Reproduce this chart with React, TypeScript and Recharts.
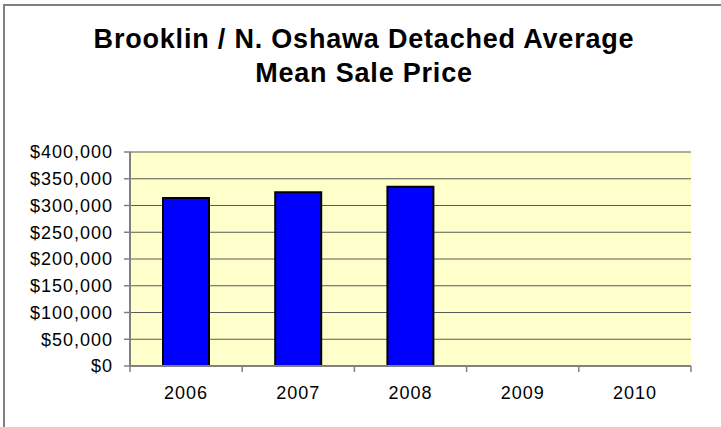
import React from "react";
import { Bar, BarChart, CartesianGrid, XAxis, YAxis } from "recharts";

const years = ["2006", "2007", "2008", "2009", "2010"];
const prices = [314000, 325000, 335000, null, null];
const priceTicks = [0, 50000, 100000, 150000, 200000, 250000, 300000, 350000, 400000];

const data = years.map((y, i) => ({ year: y, price: prices[i] }));

const W = 721;
const H = 427;
const PLOT_LEFT = 130;
const PLOT_RIGHT = 691;
const BAND = (PLOT_RIGHT - PLOT_LEFT) / years.length;
const FONT = "'Liberation Sans', Arial, sans-serif";
const FRAME = "#808080";

const money = (v: number) => "$" + v.toLocaleString("en-US");

function YearTick(props: any) {
  const { x, y, payload, index } = props;
  const left = x - BAND / 2;
  return (
    <g>
      <line x1={left} x2={left} y1={y} y2={y + 6} stroke={FRAME} strokeWidth={1.5} />
      {index === years.length - 1 && (
        <line x1={x + BAND / 2} x2={x + BAND / 2} y1={y} y2={y + 6} stroke={FRAME} strokeWidth={1.5} />
      )}
      <text
        x={x}
        y={y + 33}
        textAnchor="middle"
        fontFamily={FONT}
        fontSize={18}
        letterSpacing={1}
        fill="#000"
      >
        {payload.value}
      </text>
    </g>
  );
}

function PriceTick(props: any) {
  const { x, y, payload } = props;
  return (
    <text
      x={x + 1}
      y={y}
      dy="0.36em"
      textAnchor="end"
      fontFamily={FONT}
      fontSize={18}
      letterSpacing={1}
      fill="#000"
    >
      {money(payload.value)}
    </text>
  );
}

export default function App() {
  return (
    <div
      style={{
        position: "absolute",
        left: 0,
        top: 0,
        width: W,
        height: H,
        background: "#fff",
        overflow: "hidden",
      }}
    >
      <div
        style={{
          position: "absolute",
          left: 3,
          top: 4,
          width: W + 20,
          height: H + 20,
          borderTop: `2px solid ${FRAME}`,
          borderLeft: `2px solid ${FRAME}`,
        }}
      />
      <svg width={W} height={110} style={{ position: "absolute", left: 0, top: 0 }}>
        <text x={364} y={48} textAnchor="middle" fontFamily={FONT} fontWeight="bold" fontSize={27} letterSpacing={0.8}>
          Brooklin / N. Oshawa Detached Average
        </text>
        <text x={364} y={82} textAnchor="middle" fontFamily={FONT} fontWeight="bold" fontSize={27} letterSpacing={0.8}>
          Mean Sale Price
        </text>
      </svg>
      <div style={{ position: "absolute", left: 0, top: 0 }}>
        <BarChart
          width={W}
          height={H}
          data={data}
          margin={{ top: 152, right: W - PLOT_RIGHT, left: 0, bottom: 21 }}
        >
          <CartesianGrid
            vertical={false}
            stroke="#5a5a5a"
            strokeWidth={1}
            fill="#FFFFCC"
            fillOpacity={1}
          />
          <XAxis
            dataKey="year"
            height={40}
            tickSize={0}
            tickMargin={0}
            tickLine={false}
            axisLine={{ stroke: FRAME, strokeWidth: 2 }}
            tick={<YearTick />}
            interval={0}
          />
          <XAxis
            xAxisId="top"
            orientation="top"
            dataKey="year"
            height={0}
            tick={false}
            tickLine={false}
            axisLine={{ stroke: FRAME, strokeWidth: 2 }}
          />
          <YAxis
            width={PLOT_LEFT}
            domain={[0, 400000]}
            ticks={priceTicks}
            interval={0}
            tickSize={6}
            tickMargin={12}
            tickLine={{ stroke: FRAME, strokeWidth: 1.5 }}
            axisLine={{ stroke: FRAME, strokeWidth: 2 }}
            tick={<PriceTick />}
          />
          <YAxis
            yAxisId="right"
            orientation="right"
            width={0}
            domain={[0, 400000]}
            tick={false}
            tickLine={false}
            axisLine={{ stroke: FRAME, strokeWidth: 2 }}
          />
          <Bar
            dataKey="price"
            fill="#0000FF"
            stroke="#000"
            strokeWidth={2}
            barSize={46}
            isAnimationActive={false}
          />
        </BarChart>
      </div>
    </div>
  );
}
